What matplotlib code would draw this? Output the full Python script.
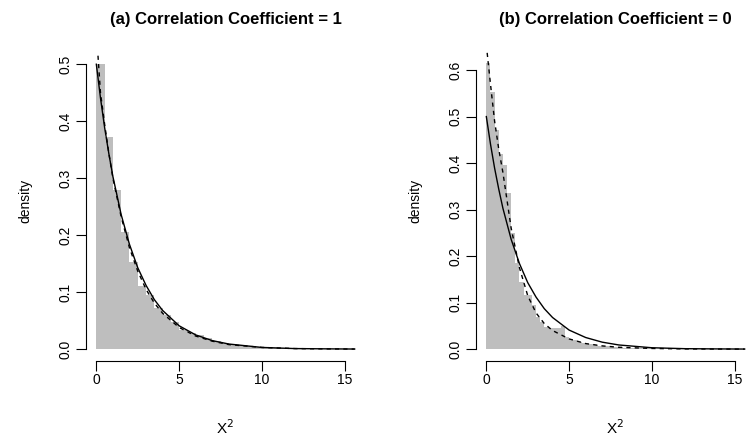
import numpy as np
import matplotlib
matplotlib.use('Agg')
import matplotlib.pyplot as plt

plt.rcParams['font.family'] = ['Liberation Sans', 'DejaVu Sans']

# ── Datos ──────────────────────────────────────────────────────────────────
TITLES = ['(a) Correlation Coefficient = 1', '(b) Correlation Coefficient = 0']

# histograma (a): bins de ancho 0.5 desde 0
BIN_A = 0.5
HIST_A = [0.500, 0.372, 0.279, 0.205, 0.153, 0.110, 0.095, 0.072, 0.060, 0.047,
          0.034, 0.029, 0.024, 0.019, 0.014, 0.011, 0.009, 0.007, 0.005, 0.004,
          0.003, 0.002, 0.0015, 0.001, 0.001, 0.0007, 0.0005, 0.0004, 0.0003,
          0.0002, 0.0001]

# histograma (b): bins de ancho 0.25 desde 0
BIN_B = 0.25
HIST_B = [0.615, 0.553, 0.471, 0.420, 0.396, 0.335, 0.250, 0.185, 0.144, 0.116,
          0.116, 0.095, 0.069, 0.058, 0.047, 0.045, 0.045, 0.045, 0.049, 0.026,
          0.022, 0.019, 0.016, 0.013, 0.011, 0.010, 0.008, 0.007, 0.006, 0.006,
          0.005, 0.004, 0.004, 0.003, 0.003, 0.002, 0.002, 0.002, 0.0015, 0.0015,
          0.001, 0.001, 0.001, 0.0008, 0.0008, 0.0006, 0.0006, 0.0005, 0.0005,
          0.0004, 0.0004, 0.0003, 0.0003, 0.0003, 0.0002, 0.0002, 0.0002, 0.0002,
          0.0001, 0.0001, 0.0001, 0.0001]

# curva teórica (línea continua), igual en ambos paneles
X_CURVE = [0, 0.25, 0.5, 0.75, 1, 1.5, 2, 2.5, 3, 3.5, 4, 5, 6, 7, 8, 10, 12, 14, 15.6]
THEO    = [0.500, 0.441, 0.389, 0.344, 0.303, 0.236, 0.184, 0.143, 0.112, 0.087,
           0.068, 0.041, 0.025, 0.015, 0.009, 0.003, 0.001, 0.0005, 0.0002]

# densidad estimada (línea discontinua)
X_DENS_A = [0.1, 0.25, 0.5, 0.75, 1, 1.5, 2, 2.5, 3, 3.5, 4, 5, 6, 7, 8, 10, 12, 14, 15.6]
DENS_A   = [0.515, 0.45, 0.395, 0.345, 0.300, 0.232, 0.178, 0.137, 0.105, 0.081,
            0.063, 0.038, 0.023, 0.014, 0.008, 0.003, 0.001, 0.0004, 0.0002]
X_DENS_B = [0.05, 0.25, 0.5, 0.75, 1, 1.5, 2, 2.5, 3, 3.5, 4, 5, 6, 7, 8, 10, 12, 14, 15.6]
DENS_B   = [0.637, 0.57, 0.49, 0.43, 0.38, 0.26, 0.175, 0.115, 0.078, 0.055,
            0.040, 0.022, 0.012, 0.007, 0.004, 0.0015, 0.0005, 0.0002, 0.0001]

X_TICKS = [0, 5, 10, 15]
Y_TICKS_A = [0.0, 0.1, 0.2, 0.3, 0.4, 0.5]
Y_TICKS_B = [0.0, 0.1, 0.2, 0.3, 0.4, 0.5, 0.6]

# ── Estilo ─────────────────────────────────────────────────────────────────
C_BAR = '#bebebe'
W, H, DPI = 746, 443, 100


def panel(fig, left_px, title, binw, hist, xd, dens, yticks, ytop):
    # región del gráfico en píxeles (estilo R con 4% de margen)
    top_px, bot_px, width_px = 41, 361, 279
    ax = fig.add_axes([left_px / W, 1 - bot_px / H,
                       width_px / W, (bot_px - top_px) / H])
    edges = np.arange(len(hist)) * binw
    ax.bar(edges, hist, width=binw, align='edge', color=C_BAR, linewidth=0,
           zorder=1)
    ax.plot(X_CURVE, THEO, color='black', lw=1.0, zorder=3)
    ax.plot(xd, dens, color='black', lw=1.0, ls=(0, (3, 3)), zorder=3)

    xmax = 15.6
    ax.set_xlim(-0.04 * xmax, xmax * 1.04)
    ax.set_ylim(-0.04 * ytop, ytop * 1.04)

    for s in ('top', 'right'):
        ax.spines[s].set_visible(False)
    ax.spines['left'].set_bounds(yticks[0], yticks[-1])
    ax.spines['bottom'].set_bounds(X_TICKS[0], X_TICKS[-1])
    for s in ('left', 'bottom'):
        ax.spines[s].set_linewidth(0.8)

    ax.set_xticks(X_TICKS)
    ax.set_xticklabels([str(t) for t in X_TICKS])
    ax.set_yticks(yticks)
    ax.set_yticklabels([f'{t:.1f}' for t in yticks], rotation=90, va='center')
    ax.tick_params(length=7, width=0.8, labelsize=10)
    ax.tick_params(axis='x', pad=1.5)
    ax.tick_params(axis='y', pad=2.5)

    ax.set_xlabel('X$^2$', fontsize=11, labelpad=23)
    ax.set_ylabel('density', fontsize=10, labelpad=19)
    ax.set_title(title, fontsize=12, fontweight='bold', pad=12)
    return ax


fig = plt.figure(figsize=(W / DPI, H / DPI), dpi=DPI)
fig.patch.set_facecolor('white')

panel(fig, 86, TITLES[0], BIN_A, HIST_A, X_DENS_A, DENS_A, Y_TICKS_A, 0.52)
panel(fig, 476, TITLES[1], BIN_B, HIST_B, X_DENS_B, DENS_B, Y_TICKS_B, 0.637)

fig.savefig('out.png', dpi=DPI, facecolor='white')
